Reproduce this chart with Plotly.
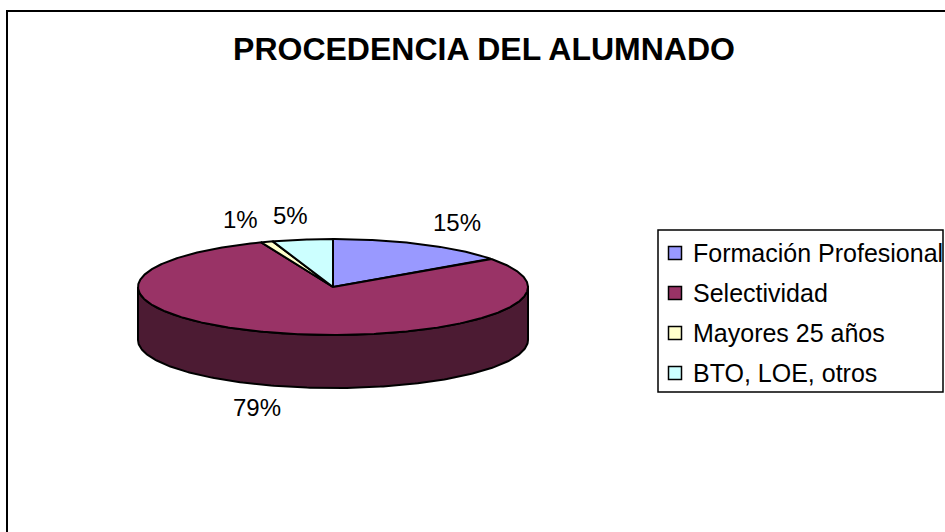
import numpy as np
import plotly.graph_objects as go

# ---- data ----
categories = ["Formación Profesional", "Selectividad", "Mayores 25 años", "BTO, LOE, otros"]
values = [15, 79, 1, 5]
top_colors = ["#9999FF", "#993366", "#FFFFCC", "#CCFFFF"]
side_colors = ["#4D4D80", "#4C1B33", "#808066", "#668080"]
title_text = "<b>PROCEDENCIA DEL ALUMNADO</b>"

# ---- geometry (page pixel space) ----
W, H = 945, 532
cx, cy = 333, 287
a, b = 195, 48
depth = 53
FONT = "Liberation Sans, Arial, sans-serif"

# legend box layout
LG_X0, LG_X1, LG_Y0, LG_Y1 = 658, 943, 230, 392
LG_ROW0, LG_ROWH = 253, 40
LG_SYM_X, LG_TXT_X = 675, 691


def ell(theta_deg, dz=0.0):
    t = np.radians(theta_deg)
    return cx + a * np.sin(t), cy - b * np.cos(t) + dz


fig = go.Figure()

total = float(sum(values))
starts, ends = [], []
acc = 0.0
for v in values:
    starts.append(acc / total * 360.0)
    acc += v
    ends.append(acc / total * 360.0)

# side faces (visible front part: 90..270 deg)
for i in range(len(values)):
    s, e = max(starts[i], 90.0), min(ends[i], 270.0)
    if e <= s:
        continue
    th = np.linspace(s, e, 200)
    xt, yt = ell(th)
    xb, yb = ell(th[::-1], depth)
    xs = np.concatenate([xt, xb, xt[:1]])
    ys = np.concatenate([yt, yb, yt[:1]])
    fig.add_trace(go.Scatter(x=xs, y=ys, mode="lines", fill="toself",
                             fillcolor=side_colors[i],
                             line=dict(color="black", width=2),
                             showlegend=False, hoverinfo="skip"))

# top faces
for i in range(len(values)):
    th = np.linspace(starts[i], ends[i], max(10, int((ends[i] - starts[i]) * 2)))
    xt, yt = ell(th)
    xs = np.concatenate([[cx], xt, [cx]])
    ys = np.concatenate([[cy], yt, [cy]])
    fig.add_trace(go.Scatter(x=xs, y=ys, mode="lines", fill="toself",
                             fillcolor=top_colors[i], name=categories[i],
                             line=dict(color="black", width=2),
                             showlegend=False, hoverinfo="name"))

# percentage labels
for i, v in enumerate(values):
    mid = (starts[i] + ends[i]) / 2.0
    t = np.radians(mid)
    lx = cx + 1.4 * a * np.sin(t)
    ly = cy - 1.5 * b * np.cos(t) + depth * max(0.0, -np.cos(t))
    fig.add_annotation(x=lx, y=ly, text=f"{v:.0f}%", showarrow=False,
                       font=dict(family=FONT, size=24, color="black"),
                       xanchor="center", yanchor="middle")

# legend (box, colour keys, names)
fig.add_shape(type="rect", x0=LG_X0, y0=LG_Y0, x1=LG_X1, y1=LG_Y1,
              line=dict(color="black", width=1.5), fillcolor="white", layer="below")
rows = [LG_ROW0 + LG_ROWH * i for i in range(len(categories))]
fig.add_trace(go.Scatter(x=[LG_SYM_X] * len(categories), y=rows, mode="markers",
                         marker=dict(symbol="square", size=13, color=top_colors,
                                     line=dict(color="black", width=1.5)),
                         showlegend=False, hoverinfo="skip"))
for c, r in zip(categories, rows):
    fig.add_annotation(x=LG_TXT_X, y=r, text=c, showarrow=False,
                       font=dict(family=FONT, size=25, color="black"),
                       xanchor="left", yanchor="middle")

# chart area border
fig.add_shape(type="rect", x0=7, y0=11, x1=W + 10, y1=H + 10,
              line=dict(color="black", width=2), fillcolor="rgba(0,0,0,0)")

fig.update_layout(
    width=W, height=H,
    margin=dict(l=0, r=0, t=0, b=0),
    paper_bgcolor="white", plot_bgcolor="white",
    xaxis=dict(range=[0, W], visible=False, fixedrange=True),
    yaxis=dict(range=[H, 0], visible=False, fixedrange=True),
    title=dict(text=title_text, x=484 / W, y=1 - 48.5 / H, xanchor="center", yanchor="middle",
               font=dict(family=FONT, size=32, color="black")),
    showlegend=False,
)

fig.write_html("out.html",
               config={"displayModeBar": False},
               post_script="document.body.style.margin='0';document.body.style.overflow='hidden';")
